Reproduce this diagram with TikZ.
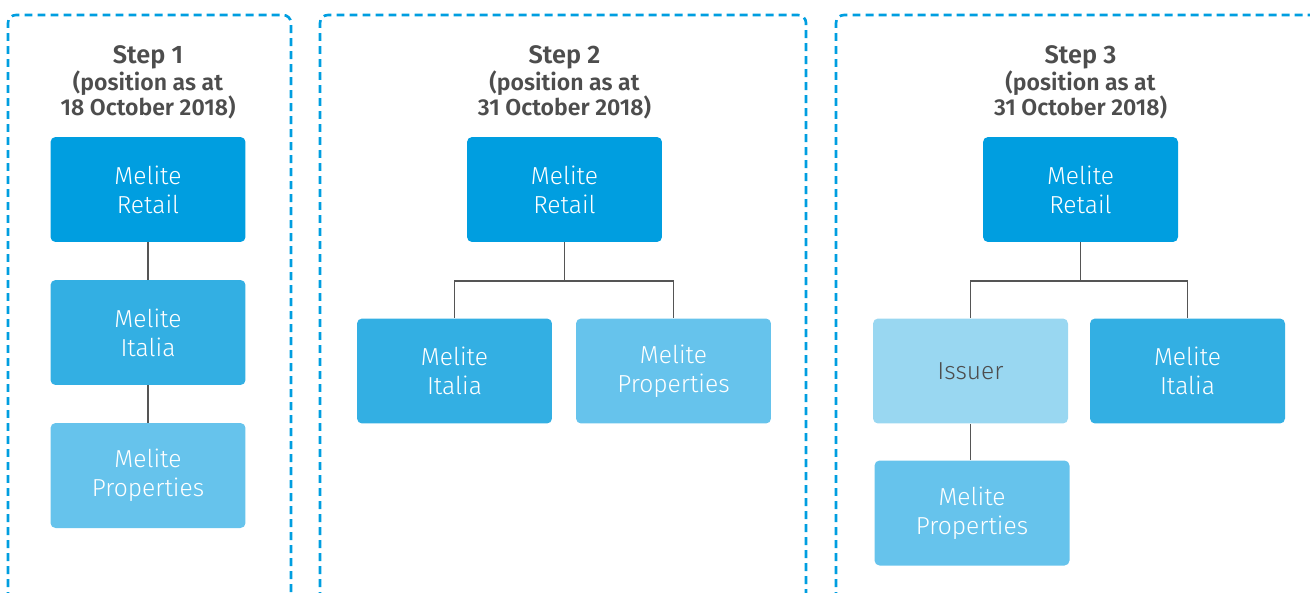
\documentclass[tikz,border=0pt]{standalone}
\usepackage{fontspec}
\setmainfont{Fira Sans}
\newfontfamily\boxfont{Fira Sans Light}
\newfontfamily\headfont{Fira Sans SemiBold}
\usetikzlibrary{positioning}

\definecolor{meliteblue}{HTML}{009EE0}
\definecolor{midblue}{HTML}{33AFE3}
\definecolor{paleblue}{HTML}{66C3EC}
\definecolor{issuerblue}{HTML}{99D7F1}
\definecolor{textgrey}{HTML}{4D4D4D}
\definecolor{linegrey}{HTML}{555555}

\begin{document}
\begin{tikzpicture}[x=0.02cm, y=-0.02cm,
    entity/.style={rectangle, rounded corners=0.1cm, minimum width=3.9cm,
      minimum height=2.1cm, align=center, text=white,
      font=\boxfont\fontsize{14}{16.5}\selectfont},
    panel/.style={draw=meliteblue, line width=1.5pt, rounded corners=0.16cm,
      dash pattern=on 4.5pt off 2.9pt},
    heading/.style={align=center, text=textgrey,
      font=\headfont\fontsize{13.1}{14.2}\selectfont},
    link/.style={draw=linegrey, line width=0.6pt}]
  \useasboundingbox (0,0) rectangle (1310,592);

  % Dashed panels (open at the bottom)
  \draw[panel] (8,600) -- (8,15) -- (291,15) -- (291,600);
  \draw[panel] (320,600) -- (320,15) -- (806,15) -- (806,600);
  \draw[panel] (836,600) -- (836,15) -- (1330,15);

  % Step 1
  \node[heading] (h1) at (148,82.5) {{\fontsize{14.4}{18}\selectfont Step 1}\\(position as at\\18 October 2018)};
  \node[entity, fill=meliteblue] (r1) at (148,189.5) {Melite\\Retail};
  \node[entity, fill=midblue] (i1) at (148,332.5) {Melite\\Italia};
  \node[entity, fill=paleblue] (p1) at (148,475.5) {Melite\\Properties};
  \draw[link] (r1) -- (i1);
  \draw[link] (i1) -- (p1);

  % Step 2
  \node[heading] (h2) at (564.5,82.5) {{\fontsize{14.4}{18}\selectfont Step 2}\\(position as at\\31 October 2018)};
  \node[entity, fill=meliteblue] (r2) at (564.5,189.5) {Melite\\Retail};
  \node[entity, fill=midblue] (i2) at (454.5,371) {Melite\\Italia};
  \node[entity, fill=paleblue] (p2) at (673.5,371) {Melite\\Properties};
  \coordinate (b2) at (564.5,281);
  \draw[link] (r2) -- (b2);
  \draw[link] (i2) |- (b2) -| (p2);

  % Step 3
  \node[heading] (h3) at (1080.5,82.5) {{\fontsize{14.4}{18}\selectfont Step 3}\\(position as at\\31 October 2018)};
  \node[entity, fill=meliteblue] (r3) at (1080.5,189.5) {Melite\\Retail};
  \node[entity, fill=issuerblue, text=textgrey] (s3) at (970.5,371) {Issuer};
  \node[entity, fill=midblue] (i3) at (1187.5,371) {Melite\\Italia};
  \node[entity, fill=paleblue] (p3) at (972,513) {Melite\\Properties};
  \coordinate (b3) at (1080.5,281);
  \draw[link] (r3) -- (b3);
  \draw[link] (s3) |- (b3) -| (i3);
  \draw[link] (s3) -- (s3 |- p3.north);
\end{tikzpicture}
\end{document}
